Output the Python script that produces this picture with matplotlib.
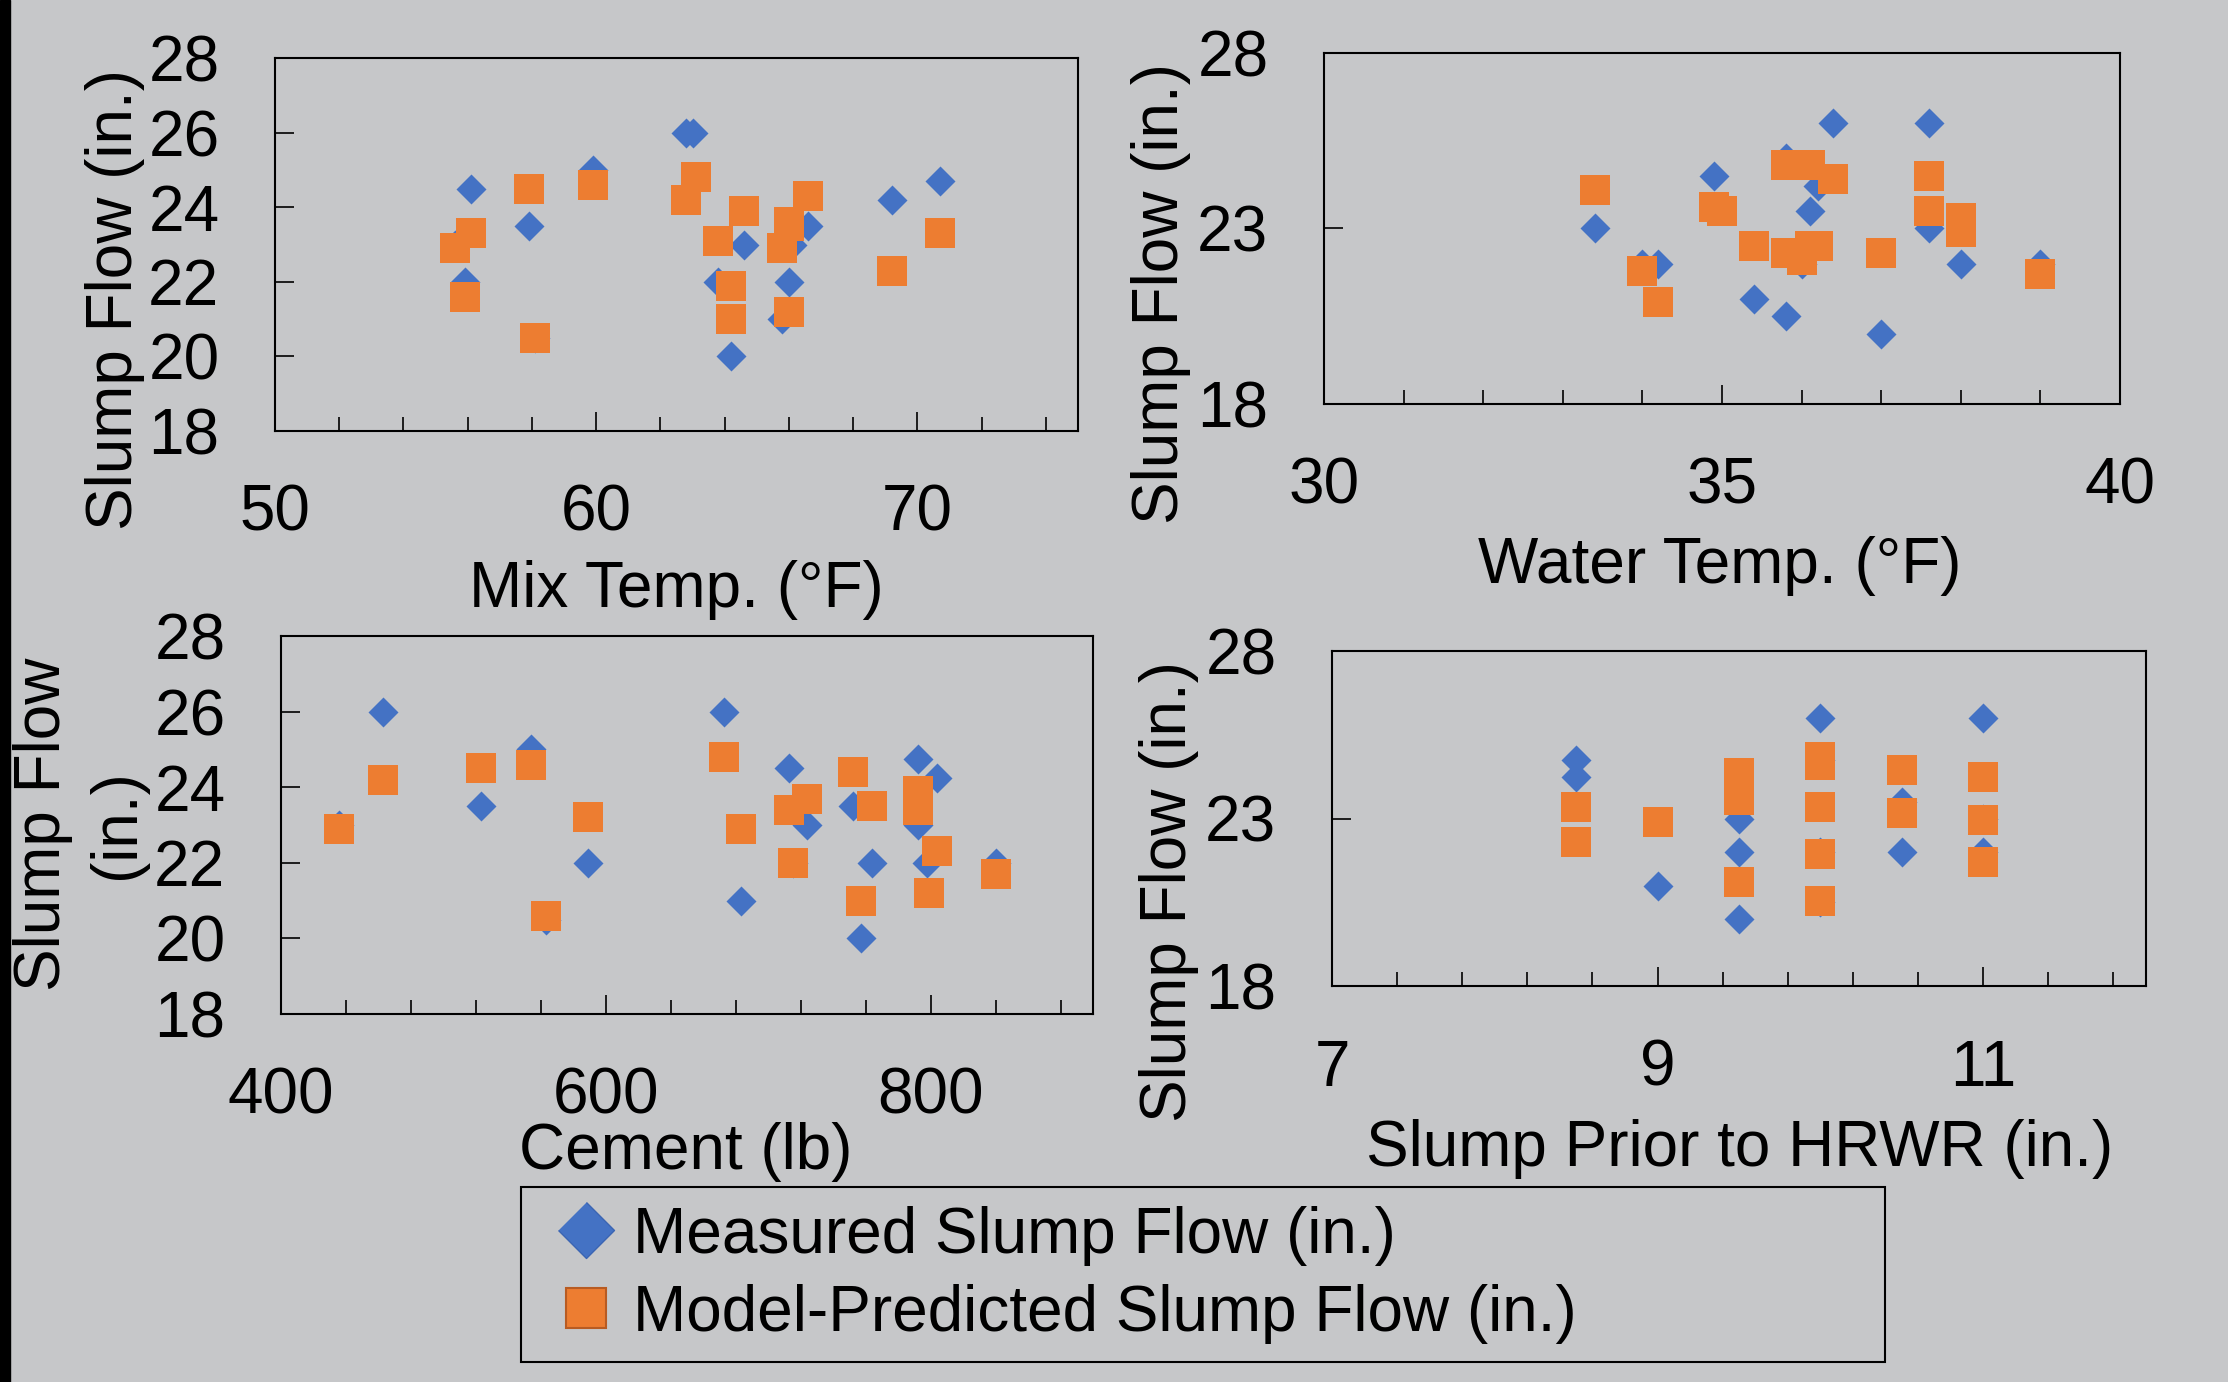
import matplotlib
matplotlib.use("Agg")
import matplotlib.pyplot as plt
from matplotlib.lines import Line2D
from matplotlib.patches import Rectangle

# ---- values ----
# Mix Temp. (°F)
mix_meas_x = [55.6, 55.9, 56.1, 57.9, 58.1, 59.9, 62.8, 63.0, 63.8, 64.2, 64.6, 65.8, 66.0, 66.1, 66.6, 69.2, 70.7]
mix_meas_y = [23.0, 22.0, 24.5, 23.5, 20.5, 25.0, 26.0, 26.0, 22.0, 20.0, 23.0, 21.0, 22.0, 23.0, 23.5, 24.2, 24.7]
mix_pred_x = [55.6, 56.1, 55.9, 57.9, 58.1, 59.9, 62.8, 63.1, 63.8, 64.2, 64.2, 64.6, 65.8, 66.0, 66.0, 66.0, 66.6, 69.2, 70.7]
mix_pred_y = [22.9, 23.3, 21.6, 24.5, 20.5, 24.6, 24.2, 24.8, 23.1, 21.9, 21.0, 23.9, 22.9, 23.6, 23.5, 21.2, 24.3, 22.3, 23.3]

# Water Temp. (°F)
water_meas_x = [33.4, 34.0, 34.2, 34.9, 35.4, 35.8, 35.8, 36.0, 36.1, 36.2, 36.4, 37.0, 37.6, 37.6, 38.0, 39.0]
water_meas_y = [23.0, 22.0, 22.0, 24.5, 21.0, 20.5, 25.0, 22.0, 23.5, 24.2, 26.0, 20.0, 26.0, 23.0, 22.0, 22.0]
water_pred_x = [33.4, 34.0, 34.2, 34.9, 35.0, 35.4, 35.8, 35.8, 36.0, 36.1, 36.1, 36.2, 36.4, 37.0, 37.6, 37.6, 38.0, 38.0, 39.0]
water_pred_y = [24.1, 21.8, 20.9, 23.6, 23.5, 22.5, 24.8, 22.3, 22.1, 24.8, 22.5, 22.5, 24.4, 22.3, 24.5, 23.5, 23.3, 22.9, 21.7]

# Cement (lb)
cement_meas_x = [436, 463, 523, 554, 563, 589, 673, 683, 713, 715, 724, 752, 757, 764, 792, 792, 798, 804, 840]
cement_meas_y = [23.0, 26.0, 23.5, 25.0, 20.5, 22.0, 26.0, 21.0, 24.5, 22.0, 23.0, 23.5, 20.0, 22.0, 24.75, 23.0, 22.0, 24.25, 22.0]
cement_pred_x = [436, 463, 523, 554, 563, 589, 673, 683, 713, 724, 715, 752, 764, 757, 792, 792, 804, 799, 840]
cement_pred_y = [22.9, 24.2, 24.5, 24.6, 20.6, 23.2, 24.8, 22.9, 23.4, 23.7, 22.0, 24.4, 23.5, 21.0, 23.9, 23.4, 22.3, 21.2, 21.7]

# Slump Prior to HRWR (in.)
hrwr_meas_x = [8.5, 8.5, 9.0, 9.5, 9.5, 9.5, 10.0, 10.0, 10.0, 10.0, 10.5, 10.5, 11.0, 11.0, 11.0]
hrwr_meas_y = [24.75, 24.25, 21.0, 23.0, 22.0, 20.0, 26.0, 24.75, 22.0, 20.5, 23.5, 22.0, 26.0, 23.0, 22.0]
hrwr_pred_x = [8.5, 8.5, 9.0, 9.5, 9.5, 9.5, 10.0, 10.0, 10.0, 10.0, 10.0, 10.5, 10.5, 11.0, 11.0, 11.0]
hrwr_pred_y = [23.35, 22.3, 22.9, 24.35, 23.55, 21.1, 24.85, 24.6, 23.35, 21.95, 20.55, 24.45, 23.15, 24.25, 22.95, 21.7]

legend_labels = ["Measured Slump Flow (in.)", "Model-Predicted Slump Flow (in.)"]

W, H = 2228, 1382
BG = "#c6c7c9"
BLUE = "#4472c4"
ORANGE = "#ed7d31"
FS = 46
DIAMOND = [(0, 1), (1, 0), (0, -1), (-1, 0)]

plt.rcParams["font.family"] = ["Liberation Sans", "DejaVu Sans"]

fig = plt.figure(figsize=(W / 100, H / 100), dpi=100, facecolor=BG)
# dark strip along the left edge
fig.patches.append(Rectangle((0, 0), 10 / W, 1, transform=fig.transFigure, color="black", zorder=0))


def fx(px):
    return px / W


def fy(py):
    return 1 - py / H


def panel(box, xs, ys, xlim, xmajor, xminor, yticks):
    l, t, r, b = box
    ax = fig.add_axes([fx(l), fy(b), (r - l) / W, (b - t) / H], facecolor=BG)
    ax.plot(xs[0], ys[0], ls="none", marker=DIAMOND, ms=21.6, mfc=BLUE, mec="none", mew=0)
    ax.plot(xs[1], ys[1], ls="none", marker="s", ms=22.3, mfc=ORANGE, mec="none", mew=0)
    ax.set_xlim(*xlim)
    ax.set_ylim(18, 28)
    ax.set_xticks(xmajor)
    ax.set_xticks(xminor, minor=True)
    ax.set_yticks(yticks)
    for s in ax.spines.values():
        s.set_linewidth(1.5)
    ax.tick_params(axis="x", which="major", direction="in", length=13.5, width=1.2, pad=38, labelsize=FS)
    ax.tick_params(axis="x", which="minor", direction="in", length=10, width=1.2)
    ax.tick_params(axis="y", which="major", direction="in", length=13.7, width=1.2, pad=40, labelsize=FS)
    return ax


panel((275, 58, 1078, 431), (mix_meas_x, mix_pred_x), (mix_meas_y, mix_pred_y),
      (50, 75), [50, 60, 70], [52, 54, 56, 58, 62, 64, 66, 68, 72, 74], [18, 20, 22, 24, 26, 28])
panel((1324, 53, 2120, 404), (water_meas_x, water_pred_x), (water_meas_y, water_pred_y),
      (30, 40), [30, 35, 40], [31, 32, 33, 34, 36, 37, 38, 39], [18, 23, 28])
panel((281, 636, 1093, 1014), (cement_meas_x, cement_pred_x), (cement_meas_y, cement_pred_y),
      (400, 900), [400, 600, 800], [440, 480, 520, 560, 640, 680, 720, 760, 840, 880], [18, 20, 22, 24, 26, 28])
panel((1332, 651, 2146, 986), (hrwr_meas_x, hrwr_pred_x), (hrwr_meas_y, hrwr_pred_y),
      (7, 12), [7, 9, 11], [7.4, 7.8, 8.2, 8.6, 9.4, 9.8, 10.2, 10.6, 11.4, 11.8], [18, 23, 28])

# axis titles
fig.text(fx(676), fy(607), "Mix Temp. (°F)", ha="center", va="baseline", fontsize=FS)
fig.text(fx(1720), fy(583), "Water Temp. (°F)", ha="center", va="baseline", fontsize=FS)
fig.text(fx(686), fy(1169), "Cement (lb)", ha="center", va="baseline", fontsize=FS)
fig.text(fx(1740), fy(1166), "Slump Prior to HRWR (in.)", ha="center", va="baseline", fontsize=FS)

yl = dict(rotation=90, rotation_mode="anchor", ha="center", va="baseline", fontsize=FS)
fig.text(fx(132), fy(300), "Slump Flow (in.)", **yl)
fig.text(fx(1178), fy(294), "Slump Flow (in.)", **yl)
fig.text(fx(60), fy(824), "Slump Flow", **yl)
fig.text(fx(134), fy(824), "(in.)", **yl)
fig.text(fx(1186), fy(891), "Slump Flow (in.)", **yl)

handles = [
    Line2D([], [], ls="none", marker=DIAMOND, ms=40.3, mfc=BLUE, mec="#3b65b3", mew=1),
    Line2D([], [], ls="none", marker="s", ms=28.8, mfc=ORANGE, mec="#b85b22", mew=1.5),
]
leg = fig.legend(handles, legend_labels, loc="upper left",
                 bbox_to_anchor=(fx(521), fy(1361), (1885 - 521) / W, (1361 - 1187) / H),
                 mode="expand", borderaxespad=0, fontsize=FS, frameon=True, fancybox=False,
                 facecolor=BG, edgecolor="black", framealpha=1, borderpad=0.29, labelspacing=0.285,
                 handlelength=1.45, handletextpad=0.02, numpoints=1)
leg.get_frame().set_linewidth(1.5)

fig.savefig("out.png", dpi=100, facecolor=BG)
